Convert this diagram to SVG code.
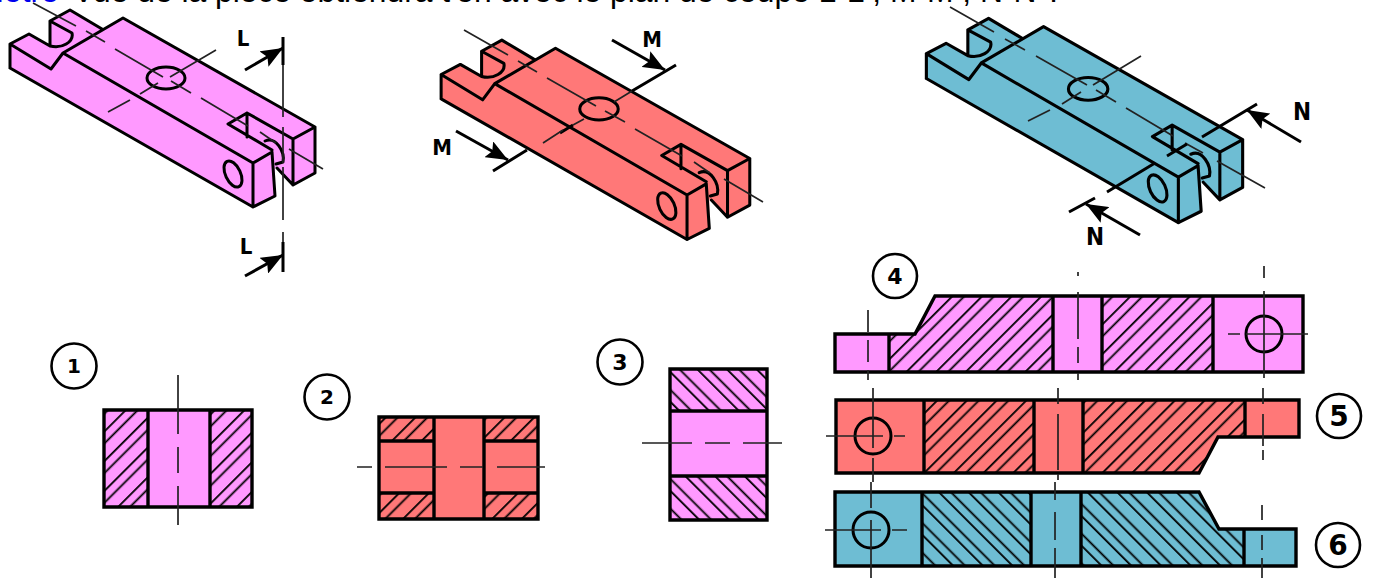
<svg xmlns="http://www.w3.org/2000/svg" width="1375" height="578" viewBox="0 0 1375 578">
<style>
.o{stroke:#000;stroke-width:3;stroke-linejoin:round;stroke-linecap:round;fill:none}
.s{stroke:#000;stroke-width:3.4;stroke-linejoin:miter}
.c{stroke:#222;stroke-width:1.7;fill:none}
.k{stroke:#000;stroke-width:3;fill:none}
.h{font-family:"Liberation Sans",Arial,sans-serif;font-size:31.8px;fill:#000}
.l{font-family:"DejaVu Sans Condensed","DejaVu Sans",sans-serif;font-weight:bold;font-size:22px;fill:#000;text-anchor:middle}
.n{font-family:"DejaVu Sans",sans-serif;font-weight:bold;fill:#000;text-anchor:middle}
.r{fill:#fff;stroke:#000;stroke-width:2.6}
.pk{fill:#FF99FF}.rd{fill:#FF7878}.bl{fill:#6EBDD3}
</style>
<defs>
<pattern id="hf" patternUnits="userSpaceOnUse" width="21" height="21" patternTransform="rotate(45)"><rect x="0" width="1.8" height="21" fill="#000"/><rect x="8.5" width="1.8" height="21" fill="#000"/></pattern>
<pattern id="hb" patternUnits="userSpaceOnUse" width="21" height="21" patternTransform="rotate(-45)"><rect x="0" width="1.8" height="21" fill="#000"/><rect x="8.5" width="1.8" height="21" fill="#000"/></pattern>
<marker id="a" markerUnits="userSpaceOnUse" markerWidth="24" markerHeight="18" refX="22" refY="9" orient="auto"><path d="M0 0L22 9L0 18L4 9Z" fill="#000"/></marker>
<g id="piece">
<path d="M10 44L29 34L50 46L50 21L70 10L102 29L123 18L315 127L315 173L293 185L275 167L275 196L253 207L10 68Z" stroke="none"/>
<path class="o" d="M10 68L10 44L29 34L50 46M10 44L51 69L63 53M63 53L123 18L315 127L293 139L293 185L315 173L315 127M293 139L247 113L228 124L272 150M247 113L247 137M50 46L50 21L70 10L102 29M50 21L72 33C74 42 62 49 50 46M63 53L253 163L272 152L275 196L253 207L10 68M253 163L253 207M277 168L293 185"/>
<ellipse class="o" cx="166" cy="78" rx="19" ry="11"/>
<ellipse class="o" cx="233" cy="174" rx="7.5" ry="14" transform="rotate(-25 233 174)"/>
<path class="o" d="M265 141C276 136 285 152 283 162L276 164"/>
</g>
</defs>
<g id="header">
<text class="h" x="-19" y="2" style="fill:#0000ee">Notre</text>
<text class="h" x="73" y="2">Vue de la pièce obtiendra t'on avec le plan de coupe L-L ; M-M ; N-N ?</text>
</g>
<g id="piece-L">
<use href="#piece" class="pk"/>
<path class="c" d="M33 3L76 26M86 31L105 42M115 49L163 77M171 81L191 93M201 98L248 126M260 132L276 143M289 149L323 169M216 50L170 77M158 83L140 94M130 100L108 112"/>
<path class="c" d="M283 65V117M283 127V163M283 167V220M283 232V242"/>
<path class="k" d="M283 37V65M283 242V272"/>
<path class="k" d="M245 70L283 48" marker-end="url(#a)"/>
<path class="k" d="M245 276L283 255" marker-end="url(#a)"/>
<text class="l" x="243" y="46">L</text><text class="l" x="246" y="254">L</text>
</g>
<g id="piece-M">
<use href="#piece" class="rd" transform="translate(431 30) scale(1.012)"/>
<path class="c" d="M464 30L508 55M518 61L537 72M547 78L596 106M605 111L625 122M635 129L682 156M694 162L710 173M724 179L763 202"/>
<path class="k" d="M676 65L632 91M560 133L573 125M527 150L493 171"/>
<path class="c" d="M632 91L614 102M584 119L573 125M563 130L543 143"/>
<path class="k" d="M612 40L665 70" marker-end="url(#a)"/>
<path class="k" d="M456 131L508 160" marker-end="url(#a)"/>
<text class="l" x="652" y="47">M</text><text class="l" x="442" y="155">M</text>
</g>
<g id="piece-N">
<use href="#piece" class="bl" transform="translate(916 8) scale(1.037)"/>
<path class="c" d="M950 7L994 32M1005 39L1025 50M1036 56L1087 85M1096 90L1116 102M1126 108L1173 136M1185 143L1203 153M1217 161L1265 188M1141 56L1093 85M1081 92L1062 104M1050 110L1028 121"/>
<path class="k" d="M1257 104L1202 137M1187 144L1167 156M1155 163L1107 192M1095 198L1069 212"/>
<path class="k" d="M1301 142L1247 110" marker-end="url(#a)"/>
<path class="k" d="M1140 235L1086 204" marker-end="url(#a)"/>
<text class="l" x="1302" y="120" style="font-size:24px">N</text><text class="l" x="1095" y="245" style="font-size:24px">N</text>
</g>
<g id="section-1">
<circle class="r" cx="74" cy="366" r="22.5"/><text class="n" x="74" y="373" style="font-size:20px">1</text>
<rect class="pk" x="104" y="410" width="148" height="97"/>
<rect fill="url(#hf)" x="104" y="410" width="44" height="97"/><rect fill="url(#hf)" x="210" y="410" width="42" height="97"/>
<path class="s" fill="none" d="M104 410H252V507H104ZM148 410V507M210 410V507"/>
<path class="c" d="M178 375V434M178 447V473M178 486V525"/>
</g>
<g id="section-2">
<circle class="r" cx="327" cy="397" r="22.5"/><text class="n" x="327" y="404" style="font-size:20px">2</text>
<rect class="rd" x="379" y="417" width="159" height="102"/>
<rect fill="url(#hf)" x="379" y="417" width="55" height="24"/><rect fill="url(#hf)" x="484" y="417" width="54" height="24"/><rect fill="url(#hf)" x="379" y="493" width="55" height="26"/><rect fill="url(#hf)" x="484" y="493" width="54" height="26"/>
<path class="s" fill="none" d="M379 417H538V519H379ZM434 417V519M484 417V519M379 441H434M484 441H538M379 493H434M484 493H538"/>
<path class="c" d="M357 467H372M385 467H447M460 467H483M497 467H545"/>
</g>
<g id="section-3">
<circle class="r" cx="620" cy="362" r="22.5"/><text class="n" x="620" y="370" style="font-size:22px">3</text>
<rect class="pk" x="670" y="369" width="97" height="151"/>
<rect fill="url(#hb)" x="670" y="369" width="97" height="42"/><rect fill="url(#hb)" x="670" y="476" width="97" height="44"/>
<path class="s" fill="none" d="M670 369H767V520H670ZM670 411H767M670 476H767"/>
<path class="c" d="M642 443H692M705 443H730M743 443H782"/>
</g>
<g id="section-4">
<circle class="r" cx="895" cy="276" r="22"/><text class="n" x="895" y="284" style="font-size:22px">4</text>
<path class="pk" d="M835 334H915L935 296H1303V372H835Z"/>
<path fill="url(#hf)" d="M889 334H915L935 296H1053V372H889Z"/><rect fill="url(#hf)" x="1102" y="296" width="111" height="76"/>
<path class="s" fill="none" d="M835 334H915L935 296H1303V372H835ZM889 334V372M1053 296V372M1102 296V372M1213 296V372"/>
<circle class="k" cx="1264" cy="334" r="18"/>
<path class="c" d="M868 310V332M868 340V362M868 370V380M1078 272V276M1078 292V339M1078 347V363M1078 373V380M1264 266V278M1264 291V378M1228 334H1240M1246 334H1308"/>
</g>
<g id="section-5">
<circle class="r" cx="1339" cy="416" r="22"/><text class="n" x="1339" y="426" style="font-size:28px">5</text>
<path class="rd" d="M836 400H1299V437H1218L1199 473H836Z"/>
<path fill="url(#hf)" d="M924 400H1034V473H924ZM1083 400H1245V437H1218L1199 473H1083Z"/>
<path class="s" fill="none" d="M836 400H1299V437H1218L1199 473H836ZM924 400V473M1034 400V473M1083 400V473M1245 400V437"/>
<circle class="k" cx="873" cy="436" r="18"/>
<path class="c" d="M826 436H883M894 436H905M873 388V448M873 458V482M1058 388V404M1058 414V470M1058 474V480M1263 388V404M1263 414V446M1263 450V460"/>
</g>
<g id="section-6">
<circle class="r" cx="1338" cy="545" r="22"/><text class="n" x="1338" y="555" style="font-size:28px">6</text>
<path class="bl" d="M835 492H1199L1219 529H1296V566H835Z"/>
<path fill="url(#hb)" d="M922 492H1031V566H922ZM1081 492H1199L1219 529H1244V566H1081Z"/>
<path class="s" fill="none" d="M835 492H1199L1219 529H1296V566H835ZM922 492V566M1031 492V566M1081 492V566M1244 529V566"/>
<circle class="k" cx="871" cy="530" r="18"/>
<path class="c" d="M825 530H881M892 530H907M871 482V508M871 520V578M1055 482V500M1055 512V540M1055 548V578M1262 505V520M1262 535V550M1262 558V578"/>
</g>
</svg>
